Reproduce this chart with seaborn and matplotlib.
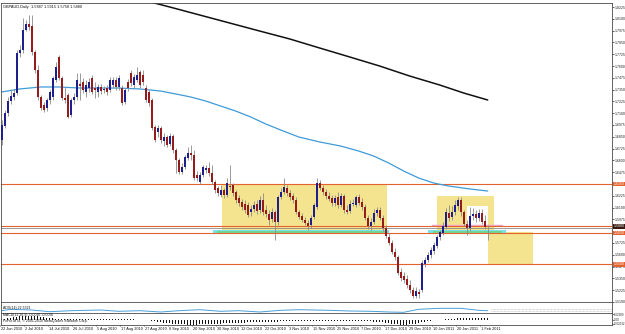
import matplotlib
matplotlib.use("Agg")
import matplotlib.pyplot as plt
import matplotlib.transforms as mtransforms
from matplotlib.patches import Rectangle
import seaborn as sns
import pandas as pd
import numpy as np

# ---------------- data ----------------
title_text = "GBPAUD,Daily  1.5887 1.5915 1.5758 1.5880"

opens = [1.6816, 1.6964, 1.7102, 1.7229, 1.7272, 1.7314, 1.7738, 1.7770, 1.7982, 1.8046,
         1.8024, 1.7749, 1.7558, 1.7272, 1.7187, 1.7155, 1.7240, 1.7272, 1.7452, 1.7696,
         1.7473, 1.7261, 1.7293, 1.7081, 1.7240, 1.7272, 1.7410, 1.7431, 1.7325, 1.7367,
         1.7473, 1.7367, 1.7325, 1.7378, 1.7346, 1.7367, 1.7346, 1.7399, 1.7452, 1.7378,
         1.7367, 1.7219, 1.7431, 1.7526, 1.7399, 1.7452, 1.7537, 1.7505, 1.7367, 1.7325,
         1.7240, 1.6954, 1.6901, 1.6943, 1.6805, 1.6848, 1.6774, 1.6858, 1.6710, 1.6604,
         1.6477, 1.6530, 1.6625, 1.6678, 1.6657, 1.6445, 1.6371, 1.6445, 1.6498, 1.6519,
         1.6466, 1.6371, 1.6307, 1.6233, 1.6286, 1.6233, 1.6328, 1.6339, 1.6265, 1.6201,
         1.6159, 1.6138, 1.6127, 1.6053, 1.6085, 1.6138, 1.6074, 1.6180, 1.6074, 1.6032,
         1.5979, 1.6053, 1.5947, 1.6212, 1.6265, 1.6307, 1.6254, 1.6222, 1.6180, 1.6053,
         1.6010, 1.5968, 1.5936, 1.5915, 1.6000, 1.6106, 1.6360, 1.6307, 1.6265, 1.6222,
         1.6201, 1.6148, 1.6212, 1.6127, 1.6222, 1.6074, 1.6063, 1.6138, 1.6127, 1.6212,
         1.6159, 1.6106, 1.5989, 1.5904, 1.5947, 1.6042, 1.6074, 1.5989, 1.5883, 1.5788,
         1.5724, 1.5629, 1.5576, 1.5417, 1.5374, 1.5343, 1.5279, 1.5226, 1.5162, 1.5205,
         1.5226, 1.5502, 1.5544, 1.5597, 1.5639, 1.5692, 1.5788, 1.5830, 1.5894, 1.6042,
         1.6000, 1.6053, 1.6116, 1.6180, 1.6053, 1.5926, 1.5883, 1.6010, 1.6032, 1.5989,
         1.6042, 1.5957, 1.5887]
highs = [1.7028, 1.7134, 1.7272, 1.7346, 1.7357, 1.7770, 1.7823, 1.8109, 1.8088, 1.8141,
         1.8141, 1.7770, 1.7611, 1.7293, 1.7219, 1.7261, 1.7346, 1.7494, 1.7643, 1.7717,
         1.7494, 1.7378, 1.7314, 1.7261, 1.7314, 1.7526, 1.7526, 1.7473, 1.7452, 1.7473,
         1.7505, 1.7431, 1.7410, 1.7410, 1.7388, 1.7399, 1.7484, 1.7484, 1.7484, 1.7505,
         1.7399, 1.7367, 1.7463, 1.7558, 1.7516, 1.7590, 1.7558, 1.7558, 1.7399, 1.7346,
         1.7261, 1.6975, 1.6975, 1.6964, 1.6890, 1.6869, 1.6890, 1.6880, 1.6731, 1.6625,
         1.6572, 1.6657, 1.6742, 1.6763, 1.6710, 1.6487, 1.6477, 1.6551, 1.6551, 1.6583,
         1.6551, 1.6392, 1.6328, 1.6339, 1.6307, 1.6413, 1.6551, 1.6360, 1.6286, 1.6233,
         1.6191, 1.6180, 1.6159, 1.6127, 1.6169, 1.6180, 1.6222, 1.6254, 1.6127, 1.6074,
         1.6095, 1.6074, 1.6233, 1.6307, 1.6413, 1.6339, 1.6286, 1.6254, 1.6212, 1.6074,
         1.6042, 1.6000, 1.5968, 1.6021, 1.6148, 1.6413, 1.6392, 1.6339, 1.6297, 1.6265,
         1.6233, 1.6233, 1.6265, 1.6254, 1.6244, 1.6127, 1.6180, 1.6191, 1.6233, 1.6244,
         1.6201, 1.6138, 1.6021, 1.5989, 1.6085, 1.6106, 1.6106, 1.6021, 1.5915, 1.5830,
         1.5756, 1.5671, 1.5597, 1.5459, 1.5417, 1.5385, 1.5332, 1.5258, 1.5258, 1.5237,
         1.5544, 1.5576, 1.5629, 1.5682, 1.5735, 1.5809, 1.5862, 1.5947, 1.6095, 1.6127,
         1.6116, 1.6180, 1.6212, 1.6212, 1.6074, 1.5968, 1.6106, 1.6095, 1.6074, 1.6085,
         1.6085, 1.6021, 1.5915]
lows = [1.6763, 1.6943, 1.7070, 1.7198, 1.7240, 1.7293, 1.7696, 1.7738, 1.7971, 1.7982,
        1.7717, 1.7526, 1.7240, 1.7134, 1.7113, 1.7123, 1.7198, 1.7240, 1.7431, 1.7452,
        1.7240, 1.7208, 1.7049, 1.7060, 1.7198, 1.7240, 1.7240, 1.7314, 1.7272, 1.7325,
        1.7304, 1.7261, 1.7272, 1.7304, 1.7314, 1.7293, 1.7325, 1.7367, 1.7346, 1.7346,
        1.7187, 1.7198, 1.7335, 1.7388, 1.7367, 1.7431, 1.7367, 1.7399, 1.7219, 1.7176,
        1.6922, 1.6795, 1.6848, 1.6784, 1.6752, 1.6742, 1.6752, 1.6678, 1.6466, 1.6456,
        1.6456, 1.6509, 1.6604, 1.6604, 1.6392, 1.6381, 1.6350, 1.6424, 1.6466, 1.6434,
        1.6350, 1.6254, 1.6222, 1.6212, 1.6201, 1.6212, 1.6286, 1.6222, 1.6148, 1.6116,
        1.6074, 1.6042, 1.6000, 1.6010, 1.6053, 1.6032, 1.6042, 1.6021, 1.6000, 1.5915,
        1.5947, 1.5756, 1.5915, 1.6191, 1.6244, 1.6222, 1.6180, 1.6148, 1.6032, 1.5979,
        1.5947, 1.5915, 1.5862, 1.5883, 1.5979, 1.6085, 1.6286, 1.6233, 1.6191, 1.6169,
        1.6116, 1.6116, 1.6095, 1.6106, 1.6042, 1.6032, 1.6042, 1.6116, 1.6106, 1.6127,
        1.6074, 1.5968, 1.5873, 1.5862, 1.5926, 1.6010, 1.5968, 1.5851, 1.5777, 1.5703,
        1.5608, 1.5544, 1.5385, 1.5321, 1.5300, 1.5247, 1.5194, 1.5141, 1.5141, 1.5141,
        1.5205, 1.5470, 1.5523, 1.5565, 1.5608, 1.5671, 1.5756, 1.5809, 1.5873, 1.5957,
        1.5968, 1.6021, 1.6074, 1.6010, 1.5904, 1.5809, 1.5851, 1.5968, 1.5947, 1.5957,
        1.5926, 1.5873, 1.5758]
closes = [1.6975, 1.7102, 1.7229, 1.7282, 1.7314, 1.7738, 1.7770, 1.7982, 1.8046, 1.8014,
          1.7749, 1.7558, 1.7272, 1.7155, 1.7134, 1.7240, 1.7325, 1.7473, 1.7590, 1.7473,
          1.7261, 1.7240, 1.7060, 1.7240, 1.7272, 1.7452, 1.7388, 1.7346, 1.7399, 1.7431,
          1.7325, 1.7346, 1.7378, 1.7335, 1.7357, 1.7325, 1.7452, 1.7452, 1.7378, 1.7473,
          1.7208, 1.7346, 1.7367, 1.7420, 1.7484, 1.7505, 1.7399, 1.7431, 1.7240, 1.7208,
          1.6943, 1.6816, 1.6943, 1.6816, 1.6848, 1.6763, 1.6858, 1.6710, 1.6604, 1.6477,
          1.6530, 1.6636, 1.6678, 1.6657, 1.6413, 1.6413, 1.6445, 1.6530, 1.6519, 1.6466,
          1.6371, 1.6286, 1.6254, 1.6286, 1.6233, 1.6360, 1.6318, 1.6254, 1.6180, 1.6148,
          1.6106, 1.6074, 1.6021, 1.6085, 1.6127, 1.6063, 1.6180, 1.6053, 1.6032, 1.5968,
          1.6053, 1.5947, 1.6212, 1.6265, 1.6318, 1.6254, 1.6212, 1.6180, 1.6053, 1.6000,
          1.5968, 1.5936, 1.5904, 1.5989, 1.6127, 1.6360, 1.6307, 1.6265, 1.6222, 1.6191,
          1.6148, 1.6201, 1.6127, 1.6222, 1.6074, 1.6053, 1.6138, 1.6148, 1.6212, 1.6148,
          1.6106, 1.5989, 1.5904, 1.5947, 1.6042, 1.6074, 1.5989, 1.5883, 1.5798, 1.5724,
          1.5629, 1.5576, 1.5406, 1.5353, 1.5332, 1.5279, 1.5226, 1.5162, 1.5215, 1.5184,
          1.5512, 1.5544, 1.5597, 1.5650, 1.5703, 1.5788, 1.5841, 1.5904, 1.6053, 1.5989,
          1.6053, 1.6127, 1.6180, 1.6053, 1.5926, 1.5883, 1.6010, 1.6032, 1.5989, 1.6042,
          1.5947, 1.5894, 1.5880]

date_labels = ["22 Jun 2010", "2 Jul 2010", "14 Jul 2010", "26 Jul 2010", "5 Aug 2010",
               "17 Aug 2010", "27 Aug 2010", "8 Sep 2010", "20 Sep 2010", "30 Sep 2010",
               "12 Oct 2010", "22 Oct 2010", "3 Nov 2010", "15 Nov 2010", "25 Nov 2010",
               "7 Dec 2010", "17 Dec 2010", "29 Dec 2010", "10 Jan 2011", "20 Jan 2011",
               "1 Feb 2011"]

# moving averages (read at sample bars)
ma_blue_bar = [0, 6, 13, 19, 26, 33, 39, 46, 53, 58, 63, 68, 73, 78, 83, 88, 93, 99,
               106, 113, 119, 124, 129, 134, 139, 144, 149, 156, 162]
ma_blue_val = [1.7325, 1.7357, 1.7378, 1.7378, 1.7367, 1.7367, 1.7367, 1.7357, 1.7335,
               1.7304, 1.7272, 1.7229, 1.7176, 1.7123, 1.7060, 1.6986, 1.6922, 1.6848,
               1.6795, 1.6752, 1.6699, 1.6646, 1.6572, 1.6487, 1.6413, 1.6360, 1.6328,
               1.6297, 1.6275]
ma_black_bar = [47, 56, 66, 76, 86, 96, 106, 116, 126, 136, 146, 154, 162]
ma_black_val = [1.8300, 1.8226, 1.8141, 1.8056, 1.7971, 1.7887, 1.7791, 1.7696, 1.7600,
                1.7494, 1.7399, 1.7314, 1.7240]

price_tick_vals = [1.8225, 1.8100, 1.7975, 1.7850, 1.7725, 1.7600, 1.7475, 1.7350, 1.7225,
                   1.7100, 1.6975, 1.6850, 1.6725, 1.6600, 1.6475, 1.6225, 1.6100,
                   1.5975, 1.5725, 1.5600, 1.5475, 1.5350, 1.5225, 1.5100]

orange_levels = [1.6350, 1.5900, 1.5830, 1.5500]
bid_price = 1.5880

# rectangles: (bar_start, bar_end, price_top, price_bottom)
yellow_boxes = [(73.4, 128.4, 1.6350, 1.5841),
                (145.1, 164.1, 1.6222, 1.5841),
                (162.1, 177.1, 1.5841, 1.5502)]
white_box = (155.1, 162.1, 1.6116, 1.5915)
cyan_bands = [(70.4, 129.1), (142.1, 168.1)]
pink_line = (143.4, 166.8, 1.5915)

# sub-window 1 indicator
ind1_bar = [0, 3, 10, 16, 23, 33, 39, 46, 53, 59, 66, 73, 79, 86, 93, 99, 109, 116, 123,
            129, 134, 139, 146, 153, 159, 162]
ind1_val = [23, 37, 30, 13, 23, 30, 17, 23, 10, 23, 33, 17, 23, 10, 27, 33, 27, 20, 17,
            10, 7, 37, 47, 47, 27, 23]

# sub-window 2 MACD histogram (one value per bar)
macd_hist = [0.004, 0.004, 0.008, 0.008, 0.010, 0.012, 0.014, 0.016, 0.016, 0.016,
             0.016, 0.015, 0.014, 0.012, 0.010, 0.008, 0.006, 0.005, 0.004, 0.004,
             0.003, 0.003, 0.002, 0.002, 0.002, 0.002, 0.002, 0.002, 0.001, 0.001,
             0.001, 0.001, 0.001, 0.001, 0.001, 0.001, 0.001, 0.001, 0.001, 0.001,
             0.001, 0.001, 0.001, 0.001, 0.001, 0.000, -0.001, -0.001, -0.002, -0.003,
             -0.005, -0.007, -0.009, -0.011, -0.013, -0.014, -0.015, -0.016, -0.017, -0.018,
             -0.019, -0.019, -0.020, -0.020, -0.020, -0.020, -0.019, -0.019, -0.018, -0.018,
             -0.017, -0.017, -0.016, -0.016, -0.015, -0.015, -0.014, -0.014, -0.013, -0.013,
             -0.012, -0.012, -0.011, -0.011, -0.010, -0.010, -0.010, -0.009, -0.009, -0.009,
             -0.008, -0.008, -0.008, -0.007, -0.007, -0.007, -0.006, -0.006, -0.006, -0.006,
             -0.006, -0.006, -0.006, -0.006, -0.006, -0.006, -0.006, -0.006, -0.006, -0.006,
             -0.006, -0.006, -0.006, -0.006, -0.006, -0.006, -0.006, -0.006, -0.006, -0.006,
             -0.007, -0.007, -0.007, -0.007, -0.008, -0.008, -0.008, -0.010, -0.012, -0.014,
             -0.016, -0.018, -0.019, -0.020, -0.020, -0.020, -0.019, -0.018, -0.016, -0.014,
             -0.011, -0.008, -0.006, -0.004, -0.003, -0.002, -0.001, 0.000, 0.001, 0.002,
             0.003, 0.004, 0.005, 0.006, 0.006, 0.007, 0.007, 0.007, 0.007, 0.006,
             0.006, 0.006, 0.005]
macd_scale_vals = [0.0205, 0.0, -0.0175]
macd_scale_labels = ["0.02389", "0.00", "-0.02032"]

# ---------------- figure ----------------
sns.set_theme(style="white")
plt.rcParams['font.family'] = ['Liberation Sans', 'DejaVu Sans']
plt.rcParams['axes.linewidth'] = 0.6

W, H = 625, 334
fig = plt.figure(figsize=(W / 100, H / 100), dpi=100)
fig.patch.set_facecolor("white")


def box(x0, y0, x1, y1):
    return [x0 / W, 1 - y1 / H, (x1 - x0) / W, (y1 - y0) / H]


ax = fig.add_axes(box(1, 3, 612, 302))
ax1 = fig.add_axes(box(1, 302, 612, 313))
ax2 = fig.add_axes(box(1, 313, 612, 325))

xlim = (-0.23, 203.43)
FS = 2.8      # date / title text
FSR = 2.55    # right-hand price scale
frame_col = "#4a4a4a"

df = pd.DataFrame({"bar": np.arange(len(opens)), "open": opens, "high": highs,
                   "low": lows, "close": closes})

# background objects
for (b0, b1, ptop, pbot) in yellow_boxes:
    ax.add_patch(Rectangle((b0, pbot), b1 - b0, ptop - pbot, facecolor="#f4e48f",
                           edgecolor="none", zorder=1))
b0, b1, ptop, pbot = white_box
ax.add_patch(Rectangle((b0, pbot), b1 - b0, ptop - pbot, facecolor="white",
                       edgecolor="none", zorder=1.1))
for (b0, b1) in cyan_bands:
    ax.add_patch(Rectangle((b0, 1.5822), b1 - b0, 0.0040, facecolor="#78e2e6",
                           edgecolor="none", zorder=1.2))
    ax.add_patch(Rectangle((b0 + 1.5, 1.5830), b1 - b0 - 3, 0.0022, facecolor="#74d492",
                           edgecolor="none", zorder=1.3))
ax.plot([pink_line[0], pink_line[1]], [pink_line[2], pink_line[2]], color="#f2a6c8",
        lw=1.0, zorder=1.4)

for lv in orange_levels:
    ax.axhline(lv, color="#e2632e", lw=0.8, zorder=2)
ax.axhline(bid_price, color="#8a8a8a", lw=0.6, zorder=2)

# moving averages
sns.lineplot(x=ma_blue_bar, y=ma_blue_val, ax=ax, color="#3f9ad8", lw=0.9, zorder=2.5)
sns.lineplot(x=ma_black_bar, y=ma_black_val, ax=ax, color="#111111", lw=1.1, zorder=2.5)

# candles
ax.vlines(df["bar"], df["low"], df["high"], color="#8a8a8a", lw=0.6, zorder=3)
body_lo = np.minimum(df["open"], df["close"])
body_h = np.maximum((df["close"] - df["open"]).abs(), 0.0006)
up = df["close"] >= df["open"]
ax.bar(df["bar"][up], body_h[up], bottom=body_lo[up], width=0.62, color="#1d1f8c",
       linewidth=0, zorder=4)
ax.bar(df["bar"][~up], body_h[~up], bottom=body_lo[~up], width=0.62, color="#951c1c",
       linewidth=0, zorder=4)

ax.set_xlim(*xlim)
ax.set_ylim(1.50988, 1.82682)
ax.set_xticks([])
ax.yaxis.tick_right()
ax.set_yticks(price_tick_vals)
ax.set_yticklabels([f"{v:.4f}" for v in price_tick_vals], fontsize=FSR, color="#222222")
ax.tick_params(axis="y", length=1.5, width=0.5, pad=0.5, colors="#222222")
ax.set_xlabel("")
ax.set_ylabel("")
if ax.get_legend():
    ax.get_legend().remove()

ax.text(0.004, 0.993, title_text, transform=ax.transAxes, fontsize=FS, va="top",
        ha="left", color="#111111")

# price label boxes on the right
trans = ax.get_yaxis_transform()
for lv in orange_levels:
    ax.text(1.0022, lv, f"{lv:.4f}", transform=trans, fontsize=FSR, color="white",
            va="center", ha="left", clip_on=False, zorder=10,
            bbox=dict(boxstyle="square,pad=0.12", fc="#e2632e", ec="none"))
ax.text(1.0022, bid_price + 0.0022, f"{bid_price:.4f}", transform=trans, fontsize=FSR,
        color="white", va="center", ha="left", clip_on=False, zorder=11,
        bbox=dict(boxstyle="square,pad=0.12", fc="#3a1a10", ec="none"))

# sub-window 1
sns.lineplot(x=ind1_bar, y=ind1_val, ax=ax1, color="#4a9fd8", lw=0.7)
ax1.plot([163, 203.4], [40, 40], color="#b0b0b0", lw=0.5, ls=(0, (1, 1)))
ax1.plot([163, 203.4], [17, 17], color="#b0b0b0", lw=0.5, ls=(0, (1, 1)))
ax1.set_xlim(*xlim)
ax1.set_ylim(0, 110)
ax1.set_xticks([])
ax1.set_yticks([])
ax1.set_xlabel("")
ax1.set_ylabel("")
ax1.text(0.004, 0.5, "ADX(14) 22.5321", transform=ax1.transAxes, fontsize=FS - 0.3,
         va="center", ha="left", color="#111111")

# sub-window 2
ax2.bar(np.arange(len(macd_hist)), macd_hist, width=0.35, color="#111111", linewidth=0)
ax2.set_xlim(*xlim)
ax2.set_ylim(-0.022, 0.026)
ax2.set_xticks([])
ax2.yaxis.tick_right()
ax2.set_yticks(macd_scale_vals)
ax2.set_yticklabels(macd_scale_labels, fontsize=2.1)
ax2.tick_params(axis="y", length=1.2, width=0.4, pad=0.5, colors="#222222")
ax2.text(0.004, 0.80, "MACD(12,26,9) -0.0026 -0.0066", transform=ax2.transAxes,
         fontsize=FS - 0.3, va="center", ha="left", color="#111111")
ax2.text(0.004, 0.30, "FxPro MT4, \u00a9 2001-2010 MetaQuotes Software Corp.",
         transform=ax2.transAxes, fontsize=FS - 0.3, va="center", ha="left",
         color="#111111")

for a in (ax, ax1, ax2):
    for s in a.spines.values():
        s.set_color(frame_col)
        s.set_linewidth(0.6)
    a.set_facecolor("white")

# date labels
dtrans = mtransforms.blended_transform_factory(ax2.transData, ax2.transAxes)
for k, lab in enumerate(date_labels):
    xb = 8 * k - 0.5
    ax2.plot([xb, xb], [0, -0.12], color=frame_col, lw=0.4, transform=dtrans,
             clip_on=False)
    ax2.text(xb + 0.3, -0.15, lab, transform=dtrans, fontsize=FS, va="top",
             ha="left", color="#111111", clip_on=False)

fig.savefig("out.png", dpi=100, facecolor="white")
